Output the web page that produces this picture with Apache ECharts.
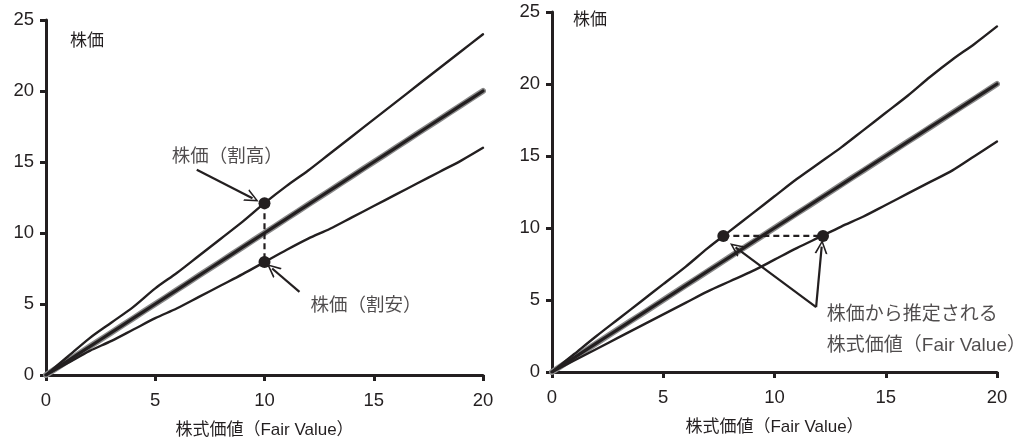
<!DOCTYPE html>
<html><head><meta charset="utf-8">
<script src="https://cdn.jsdelivr.net/npm/echarts@6/dist/echarts.min.js"></script>
<style>html,body{margin:0;padding:0;background:#fff}#c{width:1033px;height:444px}</style>
</head><body><div id="c"></div>
<script>
// ---- data ----
const xValues = [0,1,2,3,4,5,6,7,8,9,10,11,12,13,14,15,16,17,18,19,20];
const leftUpper = [0,1.3,2.6,3.7,4.8,6.1,7.2,8.4,9.6,10.8,12.1,13.3,14.4,15.6,16.8,18.0,19.2,20.4,21.6,22.8,24.0];
const leftMid   = [0,1,2,3,4,5,6,7,8,9,10,11,12,13,14,15,16,17,18,19,20];
const leftLower = [0,0.85,1.7,2.4,3.2,4.0,4.7,5.5,6.3,7.1,7.95,8.8,9.6,10.3,11.1,11.9,12.7,13.5,14.3,15.1,16.0];
const rightUpper = [0,1.25,2.5,3.7,4.9,6.1,7.3,8.6,9.8,11.0,12.2,13.4,14.5,15.6,16.8,18.0,19.2,20.5,21.7,22.8,24.0];
const rightMid   = [0,1,2,3,4,5,6,7,8,9,10,11,12,13,14,15,16,17,18,19,20];
const rightLower = [0,0.8,1.6,2.4,3.2,4.0,4.8,5.6,6.3,7.0,7.8,8.6,9.35,10.1,10.8,11.6,12.4,13.2,14.0,15.0,16.0];
const xTicks = [0,5,10,15,20];
const yTicks = [0,5,10,15,20,25];
const leftDots = [[10,12.1],[10,7.95]];
const rightDots = [[7.7,9.45],[12.18,9.45]];
const leftArrows = [[[6.9,14.45],[9.45,12.45]], [[11.6,5.85],[10.35,7.5]]];
const rightArrows = [[[11.87,4.5],[8.25,8.65]], [[11.87,4.5],[12.12,8.7]]];
const leftNotes = [{name:'株価（割高）', value:[5.75,15.35]}, {name:'株価（割安）', value:[12.1,4.9]}];
const rightNotes = [{name:'株価から推定される', value:[12.35,3.95]}, {name:'株式価値（Fair Value）', value:[12.35,1.85]}];
const xName = '株式価値（Fair Value）';
const yName = '株価';

const CJK = '"Liberation Sans", "Noto Sans CJK JP", sans-serif';
const NUM = '"Liberation Sans", Arial, sans-serif';
const INK = '#231f20';
const arrowSym = 'path://M5,0 L10,10 L8.6,10 L5,2.6 L1.4,10 L0,10 Z';

function pairs(xs, ys){ return xs.map((x,i)=>[x, ys[i]]); }

function axisX(gi){
  return {type:'value', gridIndex:gi, min:xTicks[0], max:xTicks[xTicks.length-1], interval:5,
    name:xName, nameLocation:'middle', nameGap:47,
    nameTextStyle:{fontFamily:CJK, fontSize:17, color:INK},
    axisLine:{show:true, onZero:false, lineStyle:{color:INK, width:3}},
    axisTick:{show:true, length:6, lineStyle:{color:INK, width:3}},
    axisLabel:{fontFamily:NUM, fontSize:18.5, color:INK, margin:16},
    splitLine:{show:false}};
}
function axisY(gi){
  return {type:'value', gridIndex:gi, min:yTicks[0], max:yTicks[yTicks.length-1], interval:5,
    axisLine:{show:true, onZero:false, lineStyle:{color:INK, width:3}},
    axisTick:{show:true, length:6, lineStyle:{color:INK, width:3}},
    axisLabel:{fontFamily:NUM, fontSize:18.5, color:INK, margin:12},
    splitLine:{show:false}};
}
function curve(gi, data, w, color, z){
  return {type:'line', xAxisIndex:gi, yAxisIndex:gi, data:data, showSymbol:false, symbol:'none',
    smooth:0.3, lineStyle:{color:color, width:w, cap:'round', opacity:1}, z:z, silent:true, animation:false};
}
function group(gi, up, mid, lo, dots, arrows, notes, noteSize){
  const s = [];
  s.push(curve(gi, pairs(xValues, mid), 6, '#8a8a8a', 2));
  s.push(curve(gi, pairs(xValues, mid), 3.2, INK, 3));
  s.push(curve(gi, pairs(xValues, up), 2.4, INK, 3));
  s.push(curve(gi, pairs(xValues, lo), 2.4, INK, 3));
  s.push({type:'line', xAxisIndex:gi, yAxisIndex:gi, data:dots, showSymbol:false, symbol:'none',
    lineStyle:{color:INK, width:2.2, type:[6,4], opacity:1}, z:4, animation:false});
  s.push({type:'scatter', xAxisIndex:gi, yAxisIndex:gi, data:dots, symbolSize:12,
    itemStyle:{color:INK, opacity:1}, z:6, animation:false});
  s.push({type:'line', xAxisIndex:gi, yAxisIndex:gi, data:[], animation:false,
    markLine:{silent:true, symbol:['none', arrowSym], symbolSize:[13,14],
      lineStyle:{color:INK, width:2.2, type:'solid', opacity:1}, itemStyle:{color:INK}, label:{show:false},
      emphasis:{disabled:true},
      data: arrows.map(a=>[{coord:a[0]},{coord:a[1]}])}});
  s.push({type:'scatter', xAxisIndex:gi, yAxisIndex:gi, data:notes, symbolSize:0, animation:false,
    label:{show:true, position:'right', distance:0, formatter:p=>p.name,
      fontFamily:CJK, fontSize:noteSize, color:INK}});
  return s;
}

const chart = echarts.init(document.getElementById('c'));
chart.setOption({
  animation:false,
  backgroundColor:'#fff',
  grid:[{left:46, right:550, top:20, bottom:69},
        {left:552, right:36, top:12, bottom:72}],
  xAxis:[axisX(0), axisX(1)],
  yAxis:[axisY(0), axisY(1)],
  graphic:[
    {type:'text', left:70, top:33, style:{text:yName, font:'17px '+CJK, fill:INK}},
    {type:'text', left:573, top:12, style:{text:yName, font:'17px '+CJK, fill:INK}}
  ],
  series: [].concat(
    group(0, leftUpper, leftMid, leftLower, leftDots, leftArrows, leftNotes, 18.5),
    group(1, rightUpper, rightMid, rightLower, rightDots, rightArrows, rightNotes, 19)
  )
});
</script></body></html>
